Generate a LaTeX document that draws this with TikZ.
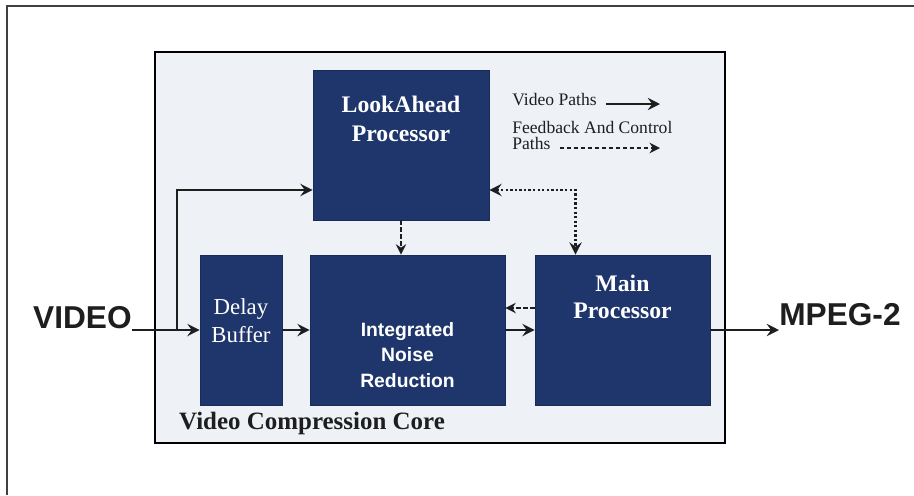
\documentclass[tikz,border=0pt]{standalone}
\usepackage{fontspec}
\setmainfont{Liberation Serif}
\setsansfont{Liberation Sans}
\usepackage{tikz}
\usetikzlibrary{arrows.meta}
\definecolor{navy}{RGB}{31,54,108}
\definecolor{corefill}{RGB}{238,242,247}
\definecolor{inkgrey}{RGB}{30,30,30}
\tikzset{%
    block/.style={draw=navy!80!black, fill=navy, inner sep=0pt, minimum height=3cm},
    blocktext/.style={text=white, align=center, font=\bfseries\fontsize{13.5}{16.5}\selectfont},
    vpath/.style={-{Stealth[length=7pt,width=7pt,inset=2.5pt]}, line width=1.1pt, draw=inkgrey},
    fbpath/.style={-{Stealth[length=6pt,width=6pt,inset=2pt]}, line width=0.8pt, draw=inkgrey, dash pattern=on 2.5pt off 1.5pt},
    ctrlpath/.style={{Stealth[length=7pt,width=7pt,inset=2.5pt]}-{Stealth[length=7pt,width=7pt,inset=2.5pt]}, line width=1.5pt, draw=inkgrey, dash pattern=on 1.3pt off 1.3pt},
    legend/.style={anchor=west, inner sep=0pt, text=inkgrey, font=\fontsize{10}{12}\selectfont}
}
\begin{document}
\begin{tikzpicture}[x=0.02cm,y=-0.02cm]
    \useasboundingbox[fill=white] (0,0) rectangle (914,495);
    \draw[line width=0.9pt, draw=black!75] (7,495) |- (914,6);
    % core
    \draw[line width=1.3pt, fill=corefill] (155,52) rectangle (725,443);
    \node[anchor=west, text=inkgrey, font=\bfseries\fontsize{14.2}{16}\selectfont] (core) at (173,423) {Video Compression Core};
    % blocks
    \node[block, minimum width=3.52cm] (look) at (401,145) {};
    \node[block, minimum width=1.64cm] (buffer) at (241,330) {};
    \node[block, minimum width=3.9cm] (inr) at (407.5,330) {};
    \node[block, minimum width=3.5cm] (main) at (622.5,330) {};
    \node[blocktext] (lookname) at (401,119) {LookAhead\\Processor};
    \node[blocktext, font=\fontsize{13}{16}\selectfont] (buffername) at (241,321) {Delay\\Buffer};
    \node[blocktext, font=\sffamily\bfseries\fontsize{11}{14.5}\selectfont] (inrname) at (407.5,355) {Integrated\\Noise\\Reduction};
    \node[blocktext, font=\bfseries\fontsize{13.5}{15.5}\selectfont] (mainname) at (622.5,297) {Main\\Processor};
    % in and out
    \node[anchor=east, inner sep=0pt, text=inkgrey, font=\sffamily\bfseries\fontsize{18}{20}\selectfont] (video) at (132,318) {VIDEO};
    \node[anchor=west, inner sep=0pt, text=inkgrey, font=\sffamily\bfseries\fontsize{18}{20}\selectfont] (mpeg) at (779,315) {MPEG-2};
    \coordinate (split) at (177,330);
    \draw[vpath] (video.east |- buffer.west) -- (buffer.west);
    \draw[vpath] (split) |- ([yshift=-0.9cm]look.west);
    \draw[vpath] (buffer.east) -- (inr.west);
    \draw[vpath] (inr.east) -- (main.west);
    \draw[vpath] (main.east) -- (main.east -| mpeg.west);
    \draw[fbpath] (look.south) -- (look.south |- inr.north);
    \draw[fbpath] ([yshift=0.44cm]main.west) -- ([yshift=0.44cm]inr.east);
    \draw[ctrlpath] ([yshift=-0.9cm]look.east) -| ([xshift=-0.94cm]main.north);
    % legend
    \node[legend] (vidleg) at (512,100) {Video Paths};
    \node[legend] (fbleg) at (512,127) {Feedback And Control};
    \node[legend] (fbleg2) at (512,143) {Paths};
    \coordinate (vidend) at (660,104);
    \coordinate (fbend) at (660,148);
    \draw[vpath, line width=0.9pt] ([xshift=5pt]vidleg.east |- vidend) -- (vidend);
    \draw[fbpath] ([xshift=5pt]fbleg2.east |- fbend) -- (fbend);
\end{tikzpicture}
\end{document}
